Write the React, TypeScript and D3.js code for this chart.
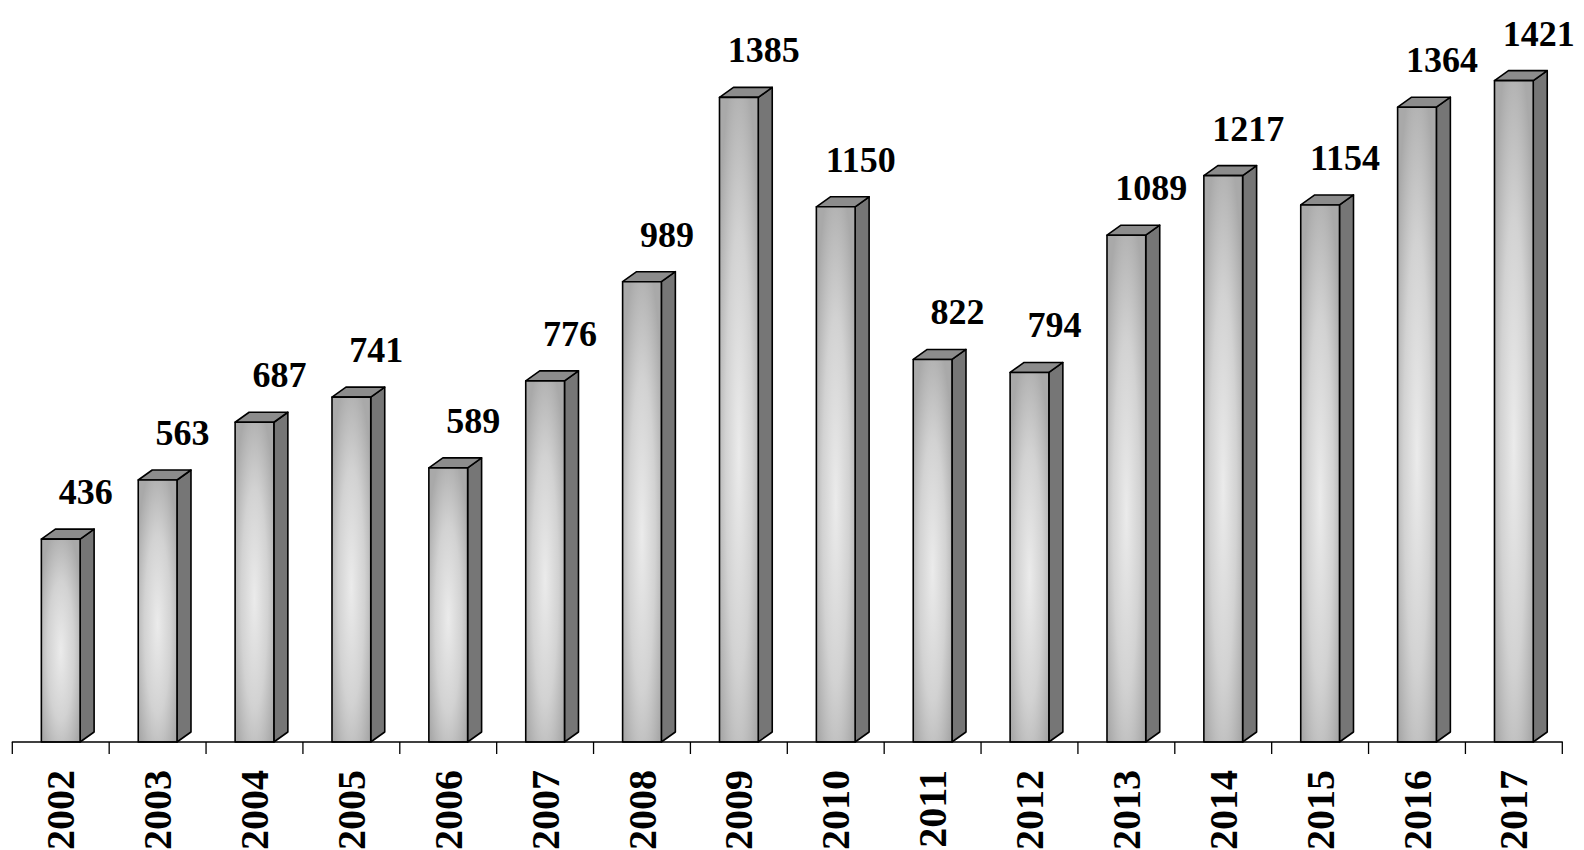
import * as d3 from 'd3';

const years = ['2002', '2003', '2004', '2005', '2006', '2007', '2008', '2009', '2010', '2011', '2012', '2013', '2014', '2015', '2016', '2017'];
const counts = [436, 563, 687, 741, 589, 776, 989, 1385, 1150, 822, 794, 1089, 1217, 1154, 1364, 1421];

const W = 1584;
const H = 850;
const FONT = '"Liberation Serif", "Times New Roman", serif';

export default function App() {
  const axisY = 742;
  const depthX = 14;
  const depthY = 10;

  const x = d3.scaleBand<string>()
    .domain(years)
    .range([12.3, 1562.3])
    .paddingInner(0.6)
    .paddingOuter(0.3);

  const y = d3.scaleLinear()
    .domain([0, 1600])
    .range([axisY, axisY - 1600 * 0.4654]);

  const step = x.step();
  const bw = x.bandwidth();
  const tickXs = years.map(d => (x(d) ?? 0) + bw / 2 - step / 2);
  tickXs.push(tickXs[tickXs.length - 1] + step);

  return (
    <svg width={W} height={H} style={{ position: 'absolute', left: 0, top: 0, display: 'block' }}>
      <defs>
        <radialGradient id="barFill" cx="0.5" cy="0.55" r="0.62">
          <stop offset="0" stopColor="#ebebeb" />
          <stop offset="0.55" stopColor="#d2d2d2" />
          <stop offset="1" stopColor="#a9a9a9" />
        </radialGradient>
      </defs>
      <rect width={W} height={H} fill="#fff" />

      {years.map((yr, i) => {
        const x0 = x(yr) ?? 0;
        const x1 = x0 + bw;
        const yt = y(counts[i]);
        const top = `M${x0},${yt} L${x0 + depthX},${yt - depthY} L${x1 + depthX},${yt - depthY} L${x1},${yt} Z`;
        const side = `M${x1},${yt} L${x1 + depthX},${yt - depthY} L${x1 + depthX},${axisY - depthY} L${x1},${axisY} Z`;
        return (
          <g key={yr} stroke="#000" strokeWidth={1.6} strokeLinejoin="round">
            <path d={side} fill="#767676" />
            <path d={top} fill="#8c8c8c" />
            <rect x={x0} y={yt} width={bw} height={axisY - yt} fill="url(#barFill)" />
          </g>
        );
      })}

      <line x1={tickXs[0] - 0.5} x2={tickXs[tickXs.length - 1] + 0.5} y1={axisY} y2={axisY} stroke="#000" strokeWidth={1.6} />
      {tickXs.map((tx, i) => (
        <line key={i} x1={tx} x2={tx} y1={axisY} y2={axisY + 12} stroke="#000" strokeWidth={1.3} />
      ))}

      {years.map((yr, i) => (
        <text
          key={'v' + yr}
          x={(x(yr) ?? 0) + bw / 2 + 25}
          y={y(counts[i]) - 35}
          textAnchor="middle"
          fontFamily={FONT}
          fontWeight="bold"
          fontSize={36}
          fill="#000"
        >
          {counts[i]}
        </text>
      ))}

      {years.map(yr => (
        <text
          key={'y' + yr}
          transform={`translate(${(x(yr) ?? 0) + bw / 2},770) rotate(-90)`}
          textAnchor="end"
          dy="0.34em"
          fontFamily={FONT}
          fontWeight="bold"
          fontSize={40}
          fill="#000"
        >
          {yr}
        </text>
      ))}
    </svg>
  );
}
